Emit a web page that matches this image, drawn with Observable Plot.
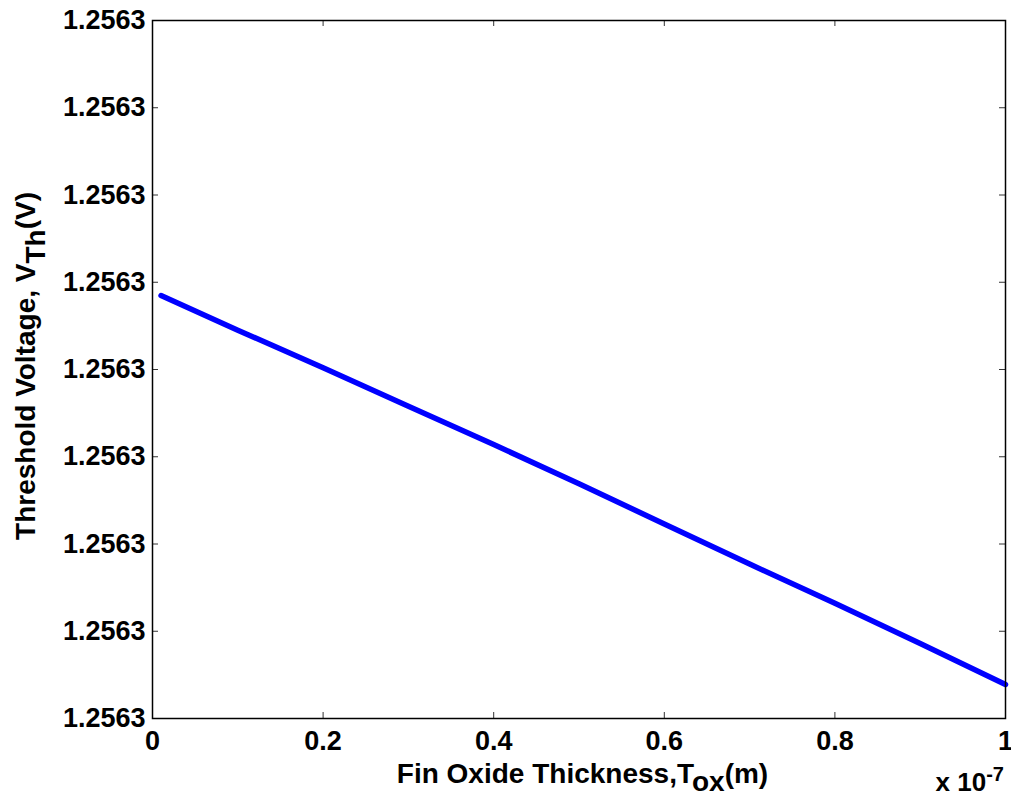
<!DOCTYPE html>
<html><head><meta charset="utf-8">
<script src="https://cdn.jsdelivr.net/npm/d3@7"></script>
<script src="https://cdn.jsdelivr.net/npm/@observablehq/plot@0.6"></script>
<style>html,body{margin:0;padding:0;background:#fff;}</style>
</head><body><div id="chart"></div>
<script>
// Fin oxide thickness (m)
const tox = [0.01e-7, 0.1e-7, 0.2e-7, 0.3e-7, 0.4e-7, 0.5e-7, 0.6e-7, 0.7e-7, 0.8e-7, 0.9e-7, 1.0e-7];
// Threshold voltage (V) — varies only around the 9th decimal place
const vth = [1.256300004848, 1.25630000445, 1.25630000402, 1.25630000358, 1.25630000314, 1.25630000269, 1.25630000223, 1.25630000177, 1.25630000132, 1.25630000086, 1.25630000039];
const xTicks = [0, 0.2e-7, 0.4e-7, 0.6e-7, 0.8e-7, 1e-7];
const xTickLabels = ["0", "0.2", "0.4", "0.6", "0.8", "1"];
const yTicks = [1.2563, 1.256300001, 1.256300002, 1.256300003, 1.256300004, 1.256300005, 1.256300006, 1.256300007, 1.256300008];
const yTickLabels = ["1.2563", "1.2563", "1.2563", "1.2563", "1.2563", "1.2563", "1.2563", "1.2563", "1.2563"];

const W = 1011, H = 796, mL = 152, mR = 6, mT = 20, mB = 78;
const fw = W - mL - mR, fh = H - mT - mB;
const data = tox.map((x, i) => ({x, y: vth[i]}));
const nearestIndex = (arr, d) => arr.reduce((b, v, i) => Math.abs(v - d) < Math.abs(arr[b] - d) ? i : b, 0);

const plot = Plot.plot({
  width: W, height: H,
  marginLeft: mL, marginRight: mR, marginTop: mT, marginBottom: mB,
  style: {fontFamily: "'Liberation Sans', Arial, sans-serif", fontWeight: "bold", fontSize: "27px", color: "#000", background: "#fff"},
  x: {domain: [0, 1e-7]},
  y: {domain: [yTicks[0], yTicks[yTicks.length - 1]]},
  marks: [
    Plot.axisX({ticks: xTicks, anchor: "bottom", tickSize: 0, tickPadding: 12, tickFormat: d => xTickLabels[nearestIndex(xTicks, d)], label: null}),
    Plot.axisY({ticks: yTicks, anchor: "left", tickSize: 0, tickPadding: 7, tickFormat: d => yTickLabels[nearestIndex(yTicks, d)], label: null}),
    Plot.tickX(xTicks, {x: d => d, insetTop: fh - 6, stroke: "#333", strokeWidth: 1}),
    Plot.tickX(xTicks, {x: d => d, insetBottom: fh - 6, stroke: "#333", strokeWidth: 1}),
    Plot.tickY(yTicks, {y: d => d, insetRight: fw - 6, stroke: "#333", strokeWidth: 1}),
    Plot.tickY(yTicks, {y: d => d, insetLeft: fw - 6, stroke: "#333", strokeWidth: 1}),
    Plot.line(data, {x: "x", y: "y", stroke: "#0000ff", strokeWidth: 5.5}),
    Plot.frame({stroke: "#000", strokeWidth: 1.5})
  ]
});

const svg = d3.select(plot);
const font = "'Liberation Sans', Arial, sans-serif";
// x-axis label
const xl = svg.append("text")
  .attr("x", mL + fw / 2 + 4).attr("y", 783)
  .attr("text-anchor", "middle")
  .style("font-family", font).style("font-weight", "bold").style("font-size", "28px");
xl.append("tspan").text("Fin Oxide Thickness,T");
xl.append("tspan").attr("dy", "0.3em").text("ox");
xl.append("tspan").attr("dy", "-0.3em").text("(m)");
// y-axis label
const yl = svg.append("text")
  .attr("transform", `translate(35,366) rotate(-90)`)
  .attr("text-anchor", "middle")
  .style("font-family", font).style("font-weight", "bold").style("font-size", "28px");
yl.append("tspan").text("Threshold Voltage, V");
yl.append("tspan").attr("dy", "0.35em").text("Th");
yl.append("tspan").attr("dy", "-0.35em").text("(V)");
// exponent
const ex = svg.append("text")
  .attr("x", W - 7).attr("y", 791)
  .attr("text-anchor", "end")
  .style("font-family", font).style("font-weight", "bold").style("font-size", "26px");
ex.append("tspan").text("x 10");
ex.append("tspan").attr("dy", "-0.5em").style("font-size", "20px").text("-7");

document.getElementById("chart").appendChild(plot);
</script>
</body></html>
